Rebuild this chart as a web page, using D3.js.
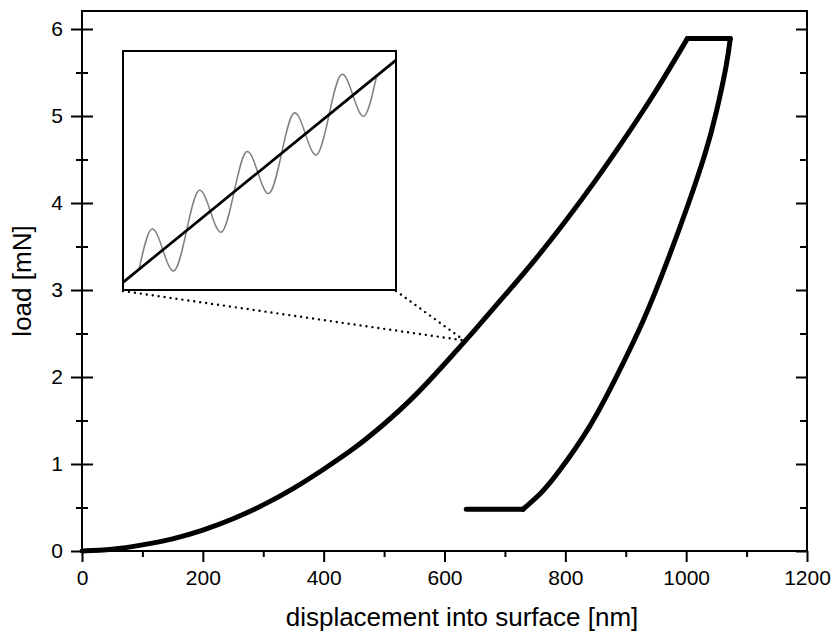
<!DOCTYPE html>
<html>
<head>
<meta charset="utf-8">
<script src="https://cdn.jsdelivr.net/npm/d3@7"></script>
<style>
  body { margin: 0; background: #fff; }
  text { font-family: "Liberation Sans", Arial, sans-serif; fill: #000; }
</style>
</head>
<body>
<svg id="chart" width="833" height="633"></svg>
<script>
// loading branch (nm, mN)
const loadDepth = [0, 50, 100, 150, 200, 250, 300, 350, 400, 450, 500, 550, 600, 650, 700, 750, 800, 850, 900, 950, 1002];
const loadForce = [0, 0.02, 0.07, 0.14, 0.24, 0.37, 0.53, 0.72, 0.94, 1.18, 1.46, 1.78, 2.15, 2.54, 2.94, 3.35, 3.79, 4.26, 4.76, 5.29, 5.89];
// hold at max load
const holdDepth = [1002, 1073];
const holdForce = [5.89, 5.89];
// unloading branch
const unloadDepth = [1073, 1066, 1050, 1031, 1002, 967, 929, 885, 840, 791, 760, 730];
const unloadForce = [5.89, 5.57, 5.05, 4.56, 3.96, 3.30, 2.65, 2.01, 1.43, 0.93, 0.67, 0.48];
// thermal drift segment
const tailDepth = [730, 636];
const tailForce = [0.48, 0.48];

// point on the loading curve that the inset magnifies
const zoomDepth = 633;
const zoomForce = 2.42;

// inset (arbitrary zoomed units, 0..100)
const insetLineX = [0, 100];
const insetLineY = [3.2, 96.2];
const waveX = [5.9, 10.25, 14.6, 18.95, 23.3, 27.65, 32.0, 36.35, 40.7, 45.05, 49.4, 53.75, 58.1, 62.45, 66.8, 71.15, 75.5, 79.85, 84.2, 88.55, 92.9];
const waveY = [8.69, 25.33, 16.78, 8.22, 24.87, 41.51, 32.96, 24.41, 41.05, 57.70, 49.14, 40.59, 57.23, 73.88, 65.32, 56.77, 73.42, 90.06, 81.51, 72.95, 89.60];

const xTicks = [0, 200, 400, 600, 800, 1000, 1200];
const xMinor = [100, 300, 500, 700, 900, 1100];
const yTicks = [0, 1, 2, 3, 4, 5, 6];
const yMinor = [0.5, 1.5, 2.5, 3.5, 4.5, 5.5];

const svg = d3.select("#chart");
const margin = { top: 11, right: 26, bottom: 82, left: 82 };
const width = +svg.attr("width") - margin.left - margin.right;
const height = +svg.attr("height") - margin.top - margin.bottom;
const g = svg.append("g").attr("transform", `translate(${margin.left},${margin.top})`);

const x = d3.scaleLinear().domain([0, 1200]).range([0, width]);
const y = d3.scaleLinear().domain([0, 6.207]).range([height, 0]);

const zip = (a, b) => a.map((v, i) => [v, b[i]]);

// bottom axis (ticks outward)
g.append("g")
    .attr("transform", `translate(0,${height})`)
    .call(d3.axisBottom(x).tickValues(xTicks).tickSize(11).tickPadding(8).tickFormat(d3.format("d")));
g.append("g")
    .attr("transform", `translate(0,${height})`)
    .call(d3.axisBottom(x).tickValues(xMinor).tickSize(6).tickFormat(""));

// left axis (ticks cross the axis)
const yAxis = g.append("g")
    .call(d3.axisLeft(y).tickValues(yTicks).tickSize(11).tickPadding(8).tickFormat(d3.format("d")));
yAxis.selectAll(".tick line").attr("x1", 11);
const yMin = g.append("g")
    .call(d3.axisLeft(y).tickValues(yMinor).tickSize(6).tickFormat(""));
yMin.selectAll(".tick line").attr("x1", 6);

// right axis (ticks inward)
g.append("g")
    .attr("transform", `translate(${width},0)`)
    .call(d3.axisRight(y).tickValues(yTicks).tickSize(-11).tickFormat(""));
g.append("g")
    .attr("transform", `translate(${width},0)`)
    .call(d3.axisRight(y).tickValues(yMinor).tickSize(-7).tickFormat(""));

g.selectAll(".domain").remove();
g.selectAll(".tick line").attr("stroke", "#000").attr("stroke-width", 2);
g.selectAll(".tick text").style("font-size", "21px");

// frame
g.append("rect")
    .attr("width", width)
    .attr("height", height)
    .attr("fill", "none")
    .attr("stroke", "#000")
    .attr("stroke-width", 2);

// axis titles
svg.append("text")
    .attr("x", 462)
    .attr("y", 626)
    .attr("text-anchor", "middle")
    .style("font-size", "26px")
    .text("displacement into surface [nm]");

svg.append("text")
    .attr("transform", `translate(31,${margin.top + height / 2}) rotate(-90)`)
    .attr("text-anchor", "middle")
    .style("font-size", "26px")
    .text("load [mN]");

// load-displacement curve
const smooth = d3.line().x(d => x(d[0])).y(d => y(d[1])).curve(d3.curveNatural);
const straight = d3.line().x(d => x(d[0])).y(d => y(d[1]));

const curveStyle = sel => sel
    .attr("fill", "none")
    .attr("stroke", "#000")
    .attr("stroke-width", 5)
    .attr("stroke-linecap", "round")
    .attr("stroke-linejoin", "round");

g.append("path").attr("d", smooth(zip(loadDepth, loadForce))).call(curveStyle);
g.append("path").attr("d", straight(zip(holdDepth, holdForce))).call(curveStyle);
g.append("path").attr("d", smooth(zip(unloadDepth, unloadForce))).call(curveStyle);
g.append("path").attr("d", straight(zip(tailDepth, tailForce))).call(curveStyle);

// inset box (page coordinates)
const inset = { left: 123, top: 51, right: 396, bottom: 290 };
const ix = d3.scaleLinear().domain([0, 100]).range([inset.left, inset.right]);
const iy = d3.scaleLinear().domain([0, 100]).range([inset.bottom, inset.top]);

// dotted connectors from inset corners to the zoomed point
const zx = margin.left + x(zoomDepth);
const zy = margin.top + y(zoomForce);
[inset.left, inset.right].forEach(cx => {
    svg.append("line")
        .attr("x1", cx).attr("y1", inset.bottom + 1)
        .attr("x2", zx).attr("y2", zy)
        .attr("stroke", "#000")
        .attr("stroke-width", 2.4)
        .attr("stroke-linecap", "round")
        .attr("stroke-dasharray", "0 6");
});

svg.append("rect")
    .attr("x", inset.left)
    .attr("y", inset.top)
    .attr("width", inset.right - inset.left)
    .attr("height", inset.bottom - inset.top)
    .attr("fill", "#fff")
    .attr("stroke", "#000")
    .attr("stroke-width", 2);

svg.append("path")
    .attr("d", d3.line().x(d => ix(d[0])).y(d => iy(d[1])).curve(d3.curveNatural)(zip(waveX, waveY)))
    .attr("fill", "none")
    .attr("stroke", "#808080")
    .attr("stroke-width", 1.5);

svg.append("path")
    .attr("d", d3.line().x(d => ix(d[0])).y(d => iy(d[1]))(zip(insetLineX, insetLineY)))
    .attr("fill", "none")
    .attr("stroke", "#000")
    .attr("stroke-width", 2.7);
</script>
</body>
</html>
